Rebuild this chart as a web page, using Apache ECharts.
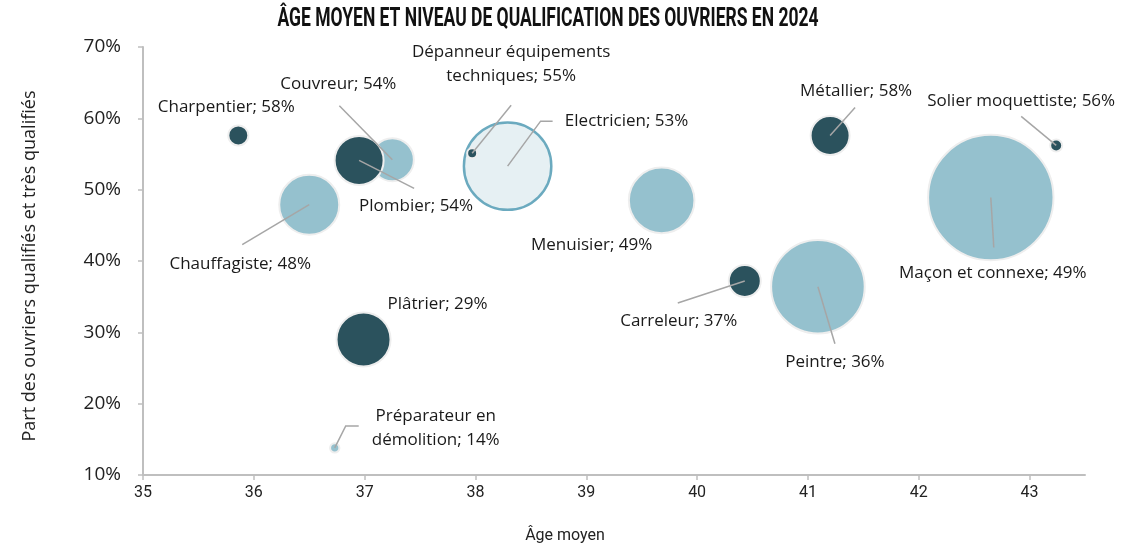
<!DOCTYPE html>
<html>
<head>
<meta charset="utf-8">
<script src="https://cdn.jsdelivr.net/npm/echarts@6/dist/echarts.min.js"></script>
<style>
  html, body { margin: 0; padding: 0; background: #fff; }
  #chart { width: 1136px; height: 549px; }
</style>
</head>
<body>
<div id="chart"></div>
<script>
// metiers, age moyen, part des qualifies (%), poids de la bulle
const metiers = ['Charpentier', 'Couvreur', 'Plombier', 'Chauffagiste', 'Electricien',
  'Dépanneur équipements\ntechniques', 'Menuisier', 'Métallier', 'Solier moquettiste',
  'Maçon et connexe', 'Carreleur', 'Peintre', 'Plâtrier', 'Préparateur en\ndémolition'];
const agesMoyens = [35.86, 37.25, 36.95, 36.50, 38.29, 37.97, 39.68, 41.20, 43.24, 42.65, 40.43, 41.09, 36.99, 36.73];
const partQualifies = [57.6, 54.2, 54.1, 47.9, 53.3, 55.1, 48.5, 57.6, 56.2, 48.9, 37.2, 36.4, 29.0, 13.8];
const poidsBulle = [121, 506, 650, 961, 1998, 36, 1142, 420, 49, 4058, 289, 2285, 784, 32];
const teintes = ['fonce', 'clair', 'fonce', 'clair', 'elec', 'fonce', 'clair', 'fonce', 'fonce', 'clair', 'fonce', 'clair', 'fonce', 'clair'];
const yTicks = [10, 20, 30, 40, 50, 60, 70];

// placement des etiquettes (px, relatif au centre de la bulle)
const decalEtiquette = [[-12, -28], [-54, -76], [57, 46], [-69, 60], [119, -45], [39, -89],
  [-70, 45], [26, -44], [-35, -44], [2, 76], [-66, 40], [17, 75], [74, -35], [101, -20]];
// traits de rappel : liste de points relatifs au centre, null = pas de trait
const traits = [null, [[-53, -54]], [[55, 28]], [[-67, 40]], [[33, -45], [45, -45]], [[39, -48]],
  null, [[25, -28]], [[-35, -29]], [[3, 50]], [[-67, 22]], [[17, 57]], null, [[11, -22], [24, -22]]];

const couleurs = {
  fonce: { color: '#2B525D', borderColor: '#EEEEEE', borderWidth: 2, opacity: 1 },
  clair: { color: '#95C1CE', borderColor: '#EEEEEE', borderWidth: 2, opacity: 1 },
  elec: { color: '#E6F0F3', borderColor: '#6BAABF', borderWidth: 2.5, opacity: 1 }
};

const donnees = metiers.map((m, i) => ({
  name: m,
  value: [agesMoyens[i], partQualifies[i], poidsBulle[i]],
  itemStyle: couleurs[teintes[i]],
  label: { offset: decalEtiquette[i] }
}));

const chart = echarts.init(document.getElementById('chart'));
const gris = '#BFBFBF';

chart.setOption({
  animation: false,
  grid: { left: 143, right: 51, top: 47, bottom: 72 },
  xAxis: {
    type: 'value', min: 35, max: 43.5, interval: 1,
    name: 'Âge moyen', nameLocation: 'middle', nameGap: 53,
    nameTextStyle: { fontFamily: 'Roboto', fontSize: 16, color: '#222', padding: [0, 98, 0, 0] },
    axisLine: { lineStyle: { color: gris, width: 2 } },
    axisTick: { show: true, length: 5, lineStyle: { color: gris, width: 1.5 } },
    axisLabel: { fontFamily: 'Roboto', fontSize: 16, color: '#222', margin: 10, showMaxLabel: false },
    splitLine: { show: false }
  },
  yAxis: {
    type: 'value', min: yTicks[0], max: yTicks[yTicks.length - 1], interval: 10,
    name: 'Part des ouvriers qualifiés et très qualifiés', nameLocation: 'middle', nameGap: 104,
    nameTextStyle: { fontFamily: 'Open Sans', fontSize: 18, color: '#222', padding: [0, 10, 0, 0] },
    axisLine: { show: true, lineStyle: { color: gris, width: 2 } },
    axisTick: { show: true, length: 5, lineStyle: { color: gris, width: 1.5 } },
    axisLabel: { fontFamily: 'Open Sans', fontSize: 19, color: '#222', margin: 22, formatter: '{value}%' },
    splitLine: { show: false }
  },
  series: [{
    type: 'scatter',
    data: donnees,
    symbolSize: v => 2 * Math.sqrt(v[2]) - 2,
    label: {
      show: true, position: 'inside', opacity: 1,
      fontFamily: 'Open Sans', fontSize: 17, color: '#1a1a1a', lineHeight: 24, align: 'center',
      formatter: p => p.name + '; ' + Math.round(p.value[1]) + '%'
    },
    emphasis: { disabled: true }
  }]
});

// titre condense et traits de rappel, ancres sur le centre des bulles via l'echelle du graphique
const elements = [{
  type: 'text', x: 548, y: 20, z: 100, scaleX: 0.7,
  style: {
    text: 'ÂGE MOYEN ET NIVEAU DE QUALIFICATION DES OUVRIERS EN 2024',
    font: 'bold 25px Roboto', fill: '#111', textAlign: 'center', textVerticalAlign: 'middle'
  }
}];
traits.forEach((t, i) => {
  if (!t) return;
  const c = chart.convertToPixel({ seriesIndex: 0 }, [agesMoyens[i], partQualifies[i]]);
  const pts = [c].concat(t.map(d => [c[0] + d[0], c[1] + d[1]]));
  elements.push({
    type: 'polyline', z: 100, silent: true,
    shape: { points: pts },
    style: { stroke: '#A6A6A6', lineWidth: 1.5, fill: null }
  });
});
chart.setOption({ graphic: elements });
</script>
</body>
</html>
